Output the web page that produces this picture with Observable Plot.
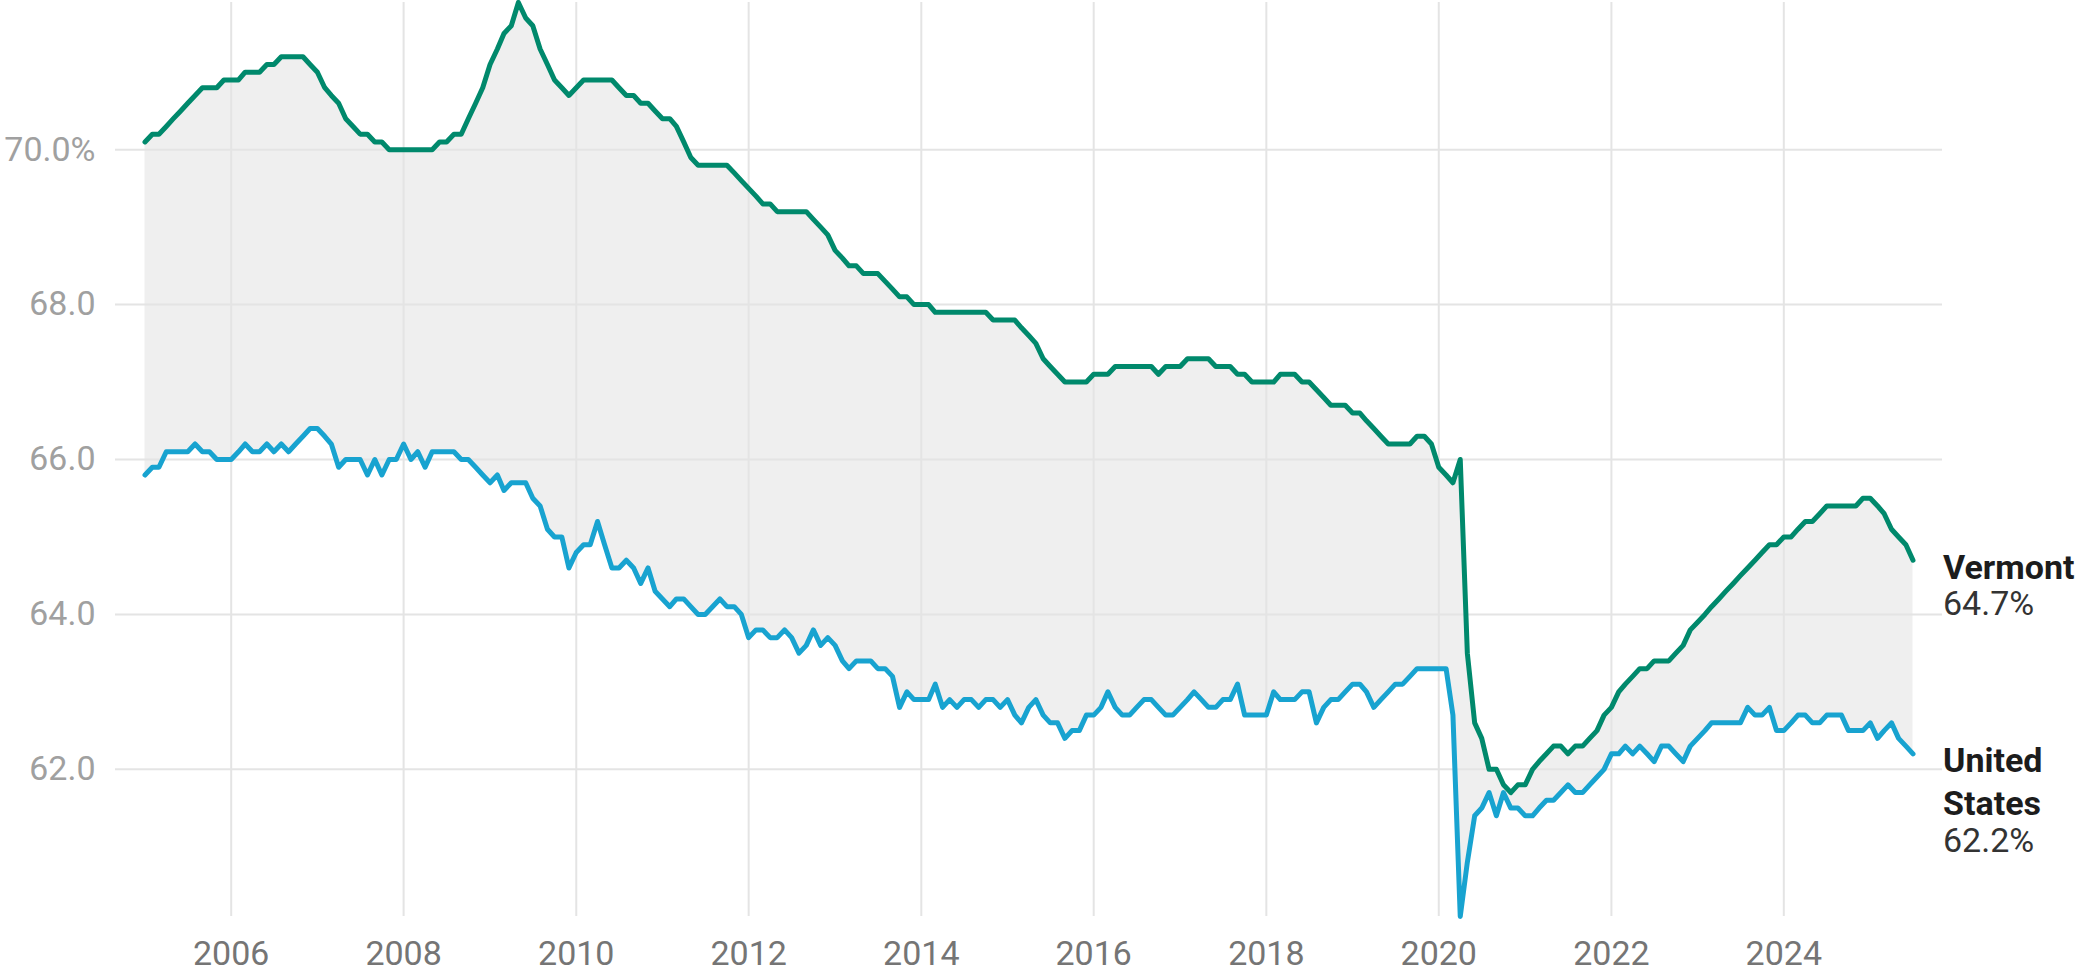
<!DOCTYPE html>
<html>
<head>
<meta charset="utf-8">
<script src="https://cdn.jsdelivr.net/npm/d3@7"></script>
<script src="https://cdn.jsdelivr.net/npm/@observablehq/plot@0.6"></script>
<style>
  html, body { margin: 0; padding: 0; background: #fff; }
  #chart svg { display: block; }
</style>
</head>
<body>
<div id="chart"></div>
<script>
// Monthly labor force participation rate, Jan 2005 – Jul 2025
const firstMonth = [2005, 0];

const vermont = [
  70.1, 70.2, 70.2, 70.3, 70.4, 70.5, 70.6, 70.7, 70.8, 70.8, 70.8, 70.9, // 2005
  70.9, 70.9, 71.0, 71.0, 71.0, 71.1, 71.1, 71.2, 71.2, 71.2, 71.2, 71.1, // 2006
  71.0, 70.8, 70.7, 70.6, 70.4, 70.3, 70.2, 70.2, 70.1, 70.1, 70.0, 70.0, // 2007
  70.0, 70.0, 70.0, 70.0, 70.0, 70.1, 70.1, 70.2, 70.2, 70.4, 70.6, 70.8, // 2008
  71.1, 71.3, 71.5, 71.6, 71.9, 71.7, 71.6, 71.3, 71.1, 70.9, 70.8, 70.7, // 2009
  70.8, 70.9, 70.9, 70.9, 70.9, 70.9, 70.8, 70.7, 70.7, 70.6, 70.6, 70.5, // 2010
  70.4, 70.4, 70.3, 70.1, 69.9, 69.8, 69.8, 69.8, 69.8, 69.8, 69.7, 69.6, // 2011
  69.5, 69.4, 69.3, 69.3, 69.2, 69.2, 69.2, 69.2, 69.2, 69.1, 69.0, 68.9, // 2012
  68.7, 68.6, 68.5, 68.5, 68.4, 68.4, 68.4, 68.3, 68.2, 68.1, 68.1, 68.0, // 2013
  68.0, 68.0, 67.9, 67.9, 67.9, 67.9, 67.9, 67.9, 67.9, 67.9, 67.8, 67.8, // 2014
  67.8, 67.8, 67.7, 67.6, 67.5, 67.3, 67.2, 67.1, 67.0, 67.0, 67.0, 67.0, // 2015
  67.1, 67.1, 67.1, 67.2, 67.2, 67.2, 67.2, 67.2, 67.2, 67.1, 67.2, 67.2, // 2016
  67.2, 67.3, 67.3, 67.3, 67.3, 67.2, 67.2, 67.2, 67.1, 67.1, 67.0, 67.0, // 2017
  67.0, 67.0, 67.1, 67.1, 67.1, 67.0, 67.0, 66.9, 66.8, 66.7, 66.7, 66.7, // 2018
  66.6, 66.6, 66.5, 66.4, 66.3, 66.2, 66.2, 66.2, 66.2, 66.3, 66.3, 66.2, // 2019
  65.9, 65.8, 65.7, 66.0, 63.5, 62.6, 62.4, 62.0, 62.0, 61.8, 61.7, 61.8, // 2020
  61.8, 62.0, 62.1, 62.2, 62.3, 62.3, 62.2, 62.3, 62.3, 62.4, 62.5, 62.7, // 2021
  62.8, 63.0, 63.1, 63.2, 63.3, 63.3, 63.4, 63.4, 63.4, 63.5, 63.6, 63.8, // 2022
  63.9, 64.0, 64.1, 64.2, 64.3, 64.4, 64.5, 64.6, 64.7, 64.8, 64.9, 64.9, // 2023
  65.0, 65.0, 65.1, 65.2, 65.2, 65.3, 65.4, 65.4, 65.4, 65.4, 65.4, 65.5, // 2024
  65.5, 65.4, 65.3, 65.1, 65.0, 64.9, 64.7                                // 2025
];

const unitedStates = [
  65.8, 65.9, 65.9, 66.1, 66.1, 66.1, 66.1, 66.2, 66.1, 66.1, 66.0, 66.0, // 2005
  66.0, 66.1, 66.2, 66.1, 66.1, 66.2, 66.1, 66.2, 66.1, 66.2, 66.3, 66.4, // 2006
  66.4, 66.3, 66.2, 65.9, 66.0, 66.0, 66.0, 65.8, 66.0, 65.8, 66.0, 66.0, // 2007
  66.2, 66.0, 66.1, 65.9, 66.1, 66.1, 66.1, 66.1, 66.0, 66.0, 65.9, 65.8, // 2008
  65.7, 65.8, 65.6, 65.7, 65.7, 65.7, 65.5, 65.4, 65.1, 65.0, 65.0, 64.6, // 2009
  64.8, 64.9, 64.9, 65.2, 64.9, 64.6, 64.6, 64.7, 64.6, 64.4, 64.6, 64.3, // 2010
  64.2, 64.1, 64.2, 64.2, 64.1, 64.0, 64.0, 64.1, 64.2, 64.1, 64.1, 64.0, // 2011
  63.7, 63.8, 63.8, 63.7, 63.7, 63.8, 63.7, 63.5, 63.6, 63.8, 63.6, 63.7, // 2012
  63.6, 63.4, 63.3, 63.4, 63.4, 63.4, 63.3, 63.3, 63.2, 62.8, 63.0, 62.9, // 2013
  62.9, 62.9, 63.1, 62.8, 62.9, 62.8, 62.9, 62.9, 62.8, 62.9, 62.9, 62.8, // 2014
  62.9, 62.7, 62.6, 62.8, 62.9, 62.7, 62.6, 62.6, 62.4, 62.5, 62.5, 62.7, // 2015
  62.7, 62.8, 63.0, 62.8, 62.7, 62.7, 62.8, 62.9, 62.9, 62.8, 62.7, 62.7, // 2016
  62.8, 62.9, 63.0, 62.9, 62.8, 62.8, 62.9, 62.9, 63.1, 62.7, 62.7, 62.7, // 2017
  62.7, 63.0, 62.9, 62.9, 62.9, 63.0, 63.0, 62.6, 62.8, 62.9, 62.9, 63.0, // 2018
  63.1, 63.1, 63.0, 62.8, 62.9, 63.0, 63.1, 63.1, 63.2, 63.3, 63.3, 63.3, // 2019
  63.3, 63.3, 62.7, 60.1, 60.8, 61.4, 61.5, 61.7, 61.4, 61.7, 61.5, 61.5, // 2020
  61.4, 61.4, 61.5, 61.6, 61.6, 61.7, 61.8, 61.7, 61.7, 61.8, 61.9, 62.0, // 2021
  62.2, 62.2, 62.3, 62.2, 62.3, 62.2, 62.1, 62.3, 62.3, 62.2, 62.1, 62.3, // 2022
  62.4, 62.5, 62.6, 62.6, 62.6, 62.6, 62.6, 62.8, 62.7, 62.7, 62.8, 62.5, // 2023
  62.5, 62.6, 62.7, 62.7, 62.6, 62.6, 62.7, 62.7, 62.7, 62.5, 62.5, 62.5, // 2024
  62.6, 62.4, 62.5, 62.6, 62.4, 62.3, 62.2                                // 2025
];

const seriesNames = ["Vermont", "United\nStates"];
const xTickYears = [2006, 2008, 2010, 2012, 2014, 2016, 2018, 2020, 2022, 2024];
const yTicks = [62, 64, 66, 68, 70];

// ---- build table ----
const start = new Date(Date.UTC(firstMonth[0], firstMonth[1], 1));
const rows = vermont.map((v, i) => ({
  date: d3.utcMonth.offset(start, i),
  vt: v,
  us: unitedStates[i]
}));
const last = rows[rows.length - 1];
const endLabels = [
  {date: last.date, value: last.vt, name: seriesNames[0], pct: last.vt.toFixed(1) + "%"},
  {date: last.date, value: last.us, name: seriesNames[1], pct: last.us.toFixed(1) + "%"}
];
const tickDates = xTickYears.map(y => new Date(Date.UTC(y, 0, 1)));

const FONT = 34;
const chart = Plot.plot({
  width: 2079,
  height: 971,
  marginTop: 2,
  marginBottom: 55,
  marginLeft: 115,
  marginRight: 137,
  style: {fontFamily: "Roboto, 'Noto Sans', sans-serif", fontSize: FONT + "px", background: "#ffffff", overflow: "visible"},
  x: {type: "utc", domain: [rows[0].date, last.date], insetLeft: 29.5, insetRight: 29.5, axis: null},
  y: {domain: [60.1, 71.9], axis: null},
  marks: [
    Plot.areaY(rows, {x: "date", y1: "us", y2: "vt", fill: "#efefef"}),
    Plot.gridX(tickDates, {stroke: "#e4e4e4", strokeOpacity: 1, strokeWidth: 2}),
    Plot.gridY(yTicks, {stroke: "#e4e4e4", strokeOpacity: 1, strokeWidth: 2}),
    Plot.lineY(rows, {x: "date", y: "us", stroke: "#18a3d0", strokeWidth: 5, strokeLinejoin: "round", strokeLinecap: "round"}),
    Plot.lineY(rows, {x: "date", y: "vt", stroke: "#00896c", strokeWidth: 5, strokeLinejoin: "round", strokeLinecap: "round"}),
    Plot.axisX(tickDates, {tickSize: 0, tickPadding: 24, tickFormat: d3.utcFormat("%Y"), color: "#757575", fontSize: FONT}),
    Plot.axisY(yTicks, {tickSize: 0, tickPadding: 20, tickFormat: d => d === 70 ? "70.0%" : d.toFixed(1), color: "#a0a0a0", fontSize: FONT}),
    Plot.text(endLabels, {x: "date", y: "value", text: "name", textAnchor: "start", lineAnchor: "top", lineHeight: 1.265, dx: 30, dy: -12, fontWeight: "bold", fill: "#1c1c1c", fontSize: FONT}),
    Plot.text(endLabels.slice(0, 1), {x: "date", y: "value", text: "pct", textAnchor: "start", lineAnchor: "top", dx: 30, dy: 31, fill: "#333", fontSize: FONT}),
    Plot.text(endLabels.slice(1), {x: "date", y: "value", text: "pct", textAnchor: "start", lineAnchor: "top", dx: 30, dy: 74, fill: "#333", fontSize: FONT})
  ]
});
document.getElementById("chart").append(chart);
</script>
</body>
</html>
